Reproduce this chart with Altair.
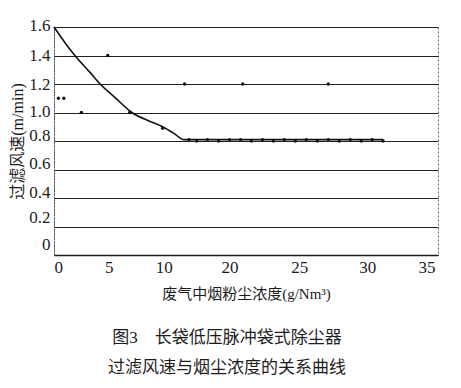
import altair as alt
import pandas as pd

# Fitted curve (concentration g/Nm3 -> filtering velocity m/min)
curve_x = [0, 1.0, 1.9, 3.3, 4.2, 5.5, 7.1, 8.5, 9.9, 11.0, 11.8, 20, 30]
curve_y = [1.6, 1.49, 1.4, 1.28, 1.2, 1.11, 1.0, 0.945, 0.9, 0.85, 0.81, 0.81, 0.81]

# Measured points
pts_x = [0.4, 0.9, 2.5, 4.9, 6.9, 9.9, 11.9, 17.2, 25.0,
         12.3, 13.0, 14.0, 15.0, 16.0, 17.0, 18.0, 19.0, 20.0, 21.0, 22.0,
         23.0, 24.0, 25.0, 26.0, 27.0, 28.0, 29.0, 30.0]
pts_y = [1.1, 1.1, 1.0, 1.4, 1.0, 0.89, 1.2, 1.2, 1.2,
         0.81, 0.80, 0.81, 0.80, 0.81, 0.81, 0.80, 0.81, 0.80, 0.81, 0.80,
         0.81, 0.80, 0.81, 0.80, 0.81, 0.80, 0.81, 0.80]

x_ticks = [0, 5, 10, 15, 20, 25, 30, 35]
y_ticks = [0, 0.2, 0.4, 0.6, 0.8, 1.0, 1.2, 1.4, 1.6]

x_title = "废气中烟粉尘浓度(g/Nm³)"
y_title = "过滤风速(m/min)"
caption = ["图3　长袋低压脉冲袋式除尘器", "过滤风速与烟尘浓度的关系曲线"]

NUMFONT = "Liberation Serif"
FONT = "Liberation Serif, Noto Sans CJK SC"
INK = "#1c1c1c"

curve_df = pd.DataFrame({"x": curve_x, "y": curve_y})
pts_df = pd.DataFrame({"x": pts_x, "y": pts_y})

xscale = alt.Scale(domain=[0, 35], nice=False, zero=True)
yscale = alt.Scale(domain=[0, 1.6], nice=False)

x_label_offset = {
    "condition": [
        {"test": "datum.value == 20", "value": -44},
        {"test": "datum.value == 25", "value": -29},
        {"test": "datum.value == 30", "value": -16},
        {"test": "datum.value == 35", "value": -3},
    ],
    "value": 0,
}
y_label_offset = {
    "condition": [
        {"test": "abs(datum.value - 1.6) < 0.01", "value": -2},
        {"test": "abs(datum.value - 1.0) < 0.01", "value": -1},
        {"test": "abs(datum.value - 0.8) < 0.01", "value": -6},
        {"test": "abs(datum.value - 0.6) < 0.01", "value": -6},
        {"test": "abs(datum.value - 0.4) < 0.01", "value": -6},
        {"test": "abs(datum.value - 0.2) < 0.01", "value": -9},
        {"test": "abs(datum.value) < 0.01", "value": -11},
    ],
    "value": 0,
}

x_axis = alt.Axis(
    values=x_ticks, labelExpr="datum.value == 15 ? '' : datum.label",
    grid=False, ticks=False, domainColor=INK, domainWidth=1.3,
    labelFont=NUMFONT, labelFontSize=17, labelColor=INK, labelPadding=4,
    labelOffset=x_label_offset,
    title=x_title, titleFont=FONT, titleFontSize=15, titleFontWeight="normal",
    titleColor=INK, titlePadding=11,
)
y_axis = alt.Axis(
    values=y_ticks, labelExpr="datum.value == 0 ? '0' : format(datum.value, '.1f')",
    grid=True, gridColor="#222222", gridWidth=1.2, ticks=False,
    labelOverlap=False,
    domainColor="#555555", domainDash=[2, 1], domainWidth=1,
    labelFont=NUMFONT, labelFontSize=17, labelColor=INK, labelPadding=4,
    labelOffset=y_label_offset,
    title=y_title, titleFont=FONT, titleFontSize=16, titleFontWeight="normal",
    titleColor=INK, titlePadding=3,
)

X = alt.X("x:Q", scale=xscale, axis=x_axis)
Y = alt.Y("y:Q", scale=yscale, axis=y_axis)

line = alt.Chart(curve_df).mark_line(
    color="#111111", strokeWidth=1.6, interpolate="monotone"
).encode(x=X, y=Y)

points = alt.Chart(pts_df).mark_circle(color="#111111", size=11, opacity=1).encode(
    x=X, y=Y
)

cap1 = alt.Chart(pd.DataFrame({"t": [caption[0]]})).mark_text(
    font=FONT, fontSize=17, color=INK, align="center", baseline="middle"
).encode(text="t:N", x=alt.value(173), y=alt.value(311))

cap2 = alt.Chart(pd.DataFrame({"t": [caption[1]]})).mark_text(
    font=FONT, fontSize=17, color=INK, align="center", baseline="middle"
).encode(text="t:N", x=alt.value(173), y=alt.value(341))

chart = alt.layer(line, points, cap1, cap2).properties(
    width=384, height=228,
    autosize=alt.AutoSizeParams(type="none"),
    padding={"left": 46, "top": 19, "right": 12, "bottom": 132},
    background="white",
).configure_view(
    stroke="#666666", strokeDash=[2, 2], strokeWidth=1
)

chart.save("out.html", embed_options={"renderer": "svg", "actions": False})
